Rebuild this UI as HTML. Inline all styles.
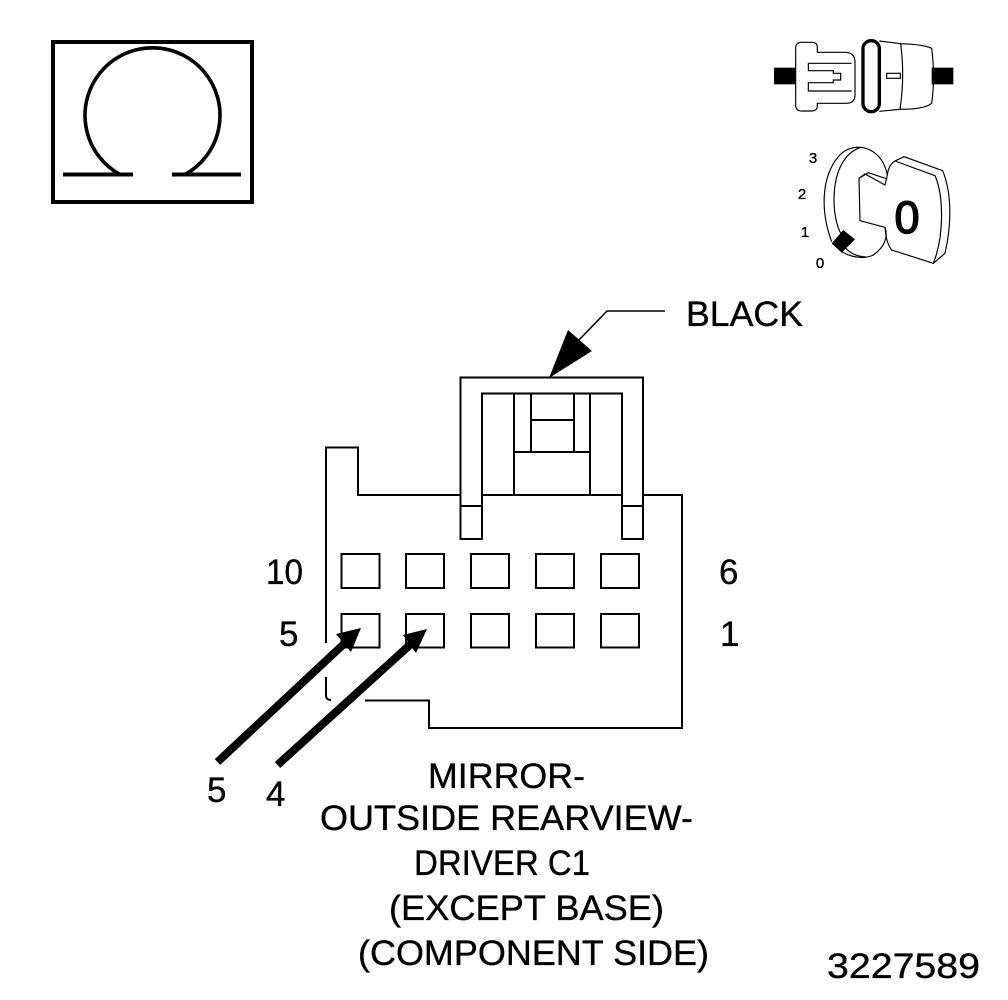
<!DOCTYPE html>
<html>
<head>
<meta charset="utf-8">
<style>
html,body{margin:0;padding:0;background:#fff}
svg{display:block}
text{font-family:"Liberation Sans",sans-serif;fill:#000;stroke:#000;stroke-width:0.35}
</style>
</head>
<body>
<svg width="1008" height="1000" viewBox="0 0 1008 1000" xmlns="http://www.w3.org/2000/svg">
<rect width="1008" height="1000" fill="#fff"/>
<!-- Omega -->
<rect x="53" y="42" width="199" height="160" fill="none" stroke="#000" stroke-width="4"/>
<path d="M120,174.500 A67.500,67.500 0 1 1 185,174.500" fill="none" stroke="#000" stroke-width="3.600"/>
<path d="M63,174.500H133M172,174.500H241" fill="none" stroke="#000" stroke-width="4"/>

<!-- Connector icons -->
<g transform="translate(760,30) scale(0.33333)" fill="none" stroke="#000" stroke-width="3.500">
<rect x="42" y="113" width="65" height="50" fill="#000" stroke="none"/>
<rect x="515" y="113" width="65" height="50" fill="#000" stroke="none"/>
<path d="M107,55 Q107,37 125,37 H155 Q172,37 172,52 V67 H258 Q285,70 285,95 V195 Q285,220 258,220 H172 V230 Q170,243 155,243 H125 Q107,243 107,225 Z"/>
<path d="M145,100 H275 M145,100 V122 H220 V130 H242 V150 H220 V158 H145 V183 H275"/>
<rect x="309" y="32" width="49" height="213" rx="24" ry="24" stroke-width="10"/>
<path d="M358,33 L422,41 Q435,140 420,238 L358,244"/>
<path d="M422,41 C460,42 495,45 515,55 C522,110 522,170 515,220 C495,235 460,238 420,238"/>
<rect x="380" y="130" width="41" height="15"/>
</g>

<!-- Key icon -->
<g transform="translate(760,30) scale(0.33333)" fill="none" stroke="#000" stroke-width="3.500">
<path d="M215,635 C180,540 185,440 235,380 C260,350 300,345 330,360 C360,375 375,400 382,435 L375,465 L315,432 L297,445 L300,572 L375,592 C385,620 375,650 340,675 C310,690 270,680 245,665"/>
<path d="M300,353 C250,370 222,430 222,510 C222,550 230,590 245,615"/>
<path d="M255,652 C272,672 295,680 318,681"/>
<path d="M297,445 L325,428 L382,447"/>
<path d="M382,435 Q385,405 405,393 L432,380 L548,422 C572,480 578,570 555,670 L520,700 L395,660 C380,640 378,620 375,592"/>
<path d="M405,393 L525,437 C552,500 552,620 520,700"/>
<path d="M250,600 L285,628 L245,668 L215,640 Z" fill="#000" stroke="none"/>
</g>
<text x="813" y="163" font-size="15" text-anchor="middle">3</text>
<text x="802" y="199" font-size="15" text-anchor="middle">2</text>
<text x="805" y="237" font-size="15" text-anchor="middle">1</text>
<text x="820" y="268" font-size="15" text-anchor="middle">0</text>
<text x="907" y="233" font-size="45" text-anchor="middle" style="stroke-width:1.500">0</text>

<!-- Black label -->
<text x="686" y="326" font-size="35" textLength="117" lengthAdjust="spacingAndGlyphs">BLACK</text>
<path d="M665,311 H607 L577,342" fill="none" stroke="#000" stroke-width="1.500"/>
<path d="M549,378 L568,330 L592,351 Z" fill="#000"/>

<!-- Connector body -->
<g fill="none" stroke="#000" stroke-width="2">
<path d="M326,643 V447.500 H358 V495 H682 V728 H429 V700.500 H365"/>
<path d="M326,677 V695 Q326,700 331,700"/>
</g>
<g fill="#fff" stroke="#000" stroke-width="2">
<path d="M460.500,506 V377.500 H643 V506 H622 V393.500 H482 V506 Z" />
<rect x="460.500" y="506" width="21.500" height="33"/>
<rect x="622" y="506" width="21" height="33"/>
<path d="M514,393.500 V495 M590,393.500 V495 M531,393.500 V452 M574,393.500 V452 M531,420 H574 M514,452 H591" fill="none"/>
</g>

<!-- Pins -->
<g fill="none" stroke="#000" stroke-width="2">
<rect x="341.500" y="554" width="38" height="34"/>
<rect x="406" y="554" width="38" height="34"/>
<rect x="471" y="554" width="38" height="34"/>
<rect x="536" y="554" width="38" height="34"/>
<rect x="601" y="554" width="38" height="34"/>
<rect x="341.500" y="614" width="38" height="33.500"/>
<rect x="406" y="614" width="38" height="33.500"/>
<rect x="471" y="614" width="38" height="33.500"/>
<rect x="536" y="614" width="38" height="33.500"/>
<rect x="601" y="614" width="38" height="33.500"/>
</g>

<!-- Arrows -->
<path d="M217.500,762 L346,642" stroke="#000" stroke-width="8" fill="none"/>
<path d="M361,628 L336,634 L351,652 Z" fill="#000"/>
<path d="M277.500,765 L412,643" stroke="#000" stroke-width="8" fill="none"/>
<path d="M427,629 L403,635 L416,653 Z" fill="#000"/>

<!-- Numbers -->
<text x="266" y="584" font-size="35" textLength="37" lengthAdjust="spacingAndGlyphs">10</text>
<text x="719" y="584" font-size="35">6</text>
<text x="279" y="646" font-size="35">5</text>
<text x="720" y="646" font-size="35">1</text>
<text x="207" y="802" font-size="35">5</text>
<text x="266" y="806" font-size="35">4</text>

<!-- Caption -->
<text x="428" y="788" font-size="35" textLength="157" lengthAdjust="spacingAndGlyphs">MIRROR-</text>
<text x="320" y="830" font-size="35" textLength="373" lengthAdjust="spacingAndGlyphs">OUTSIDE REARVIEW-</text>
<text x="414" y="875" font-size="35" textLength="176" lengthAdjust="spacingAndGlyphs">DRIVER C1</text>
<text x="389" y="920" font-size="35" textLength="275" lengthAdjust="spacingAndGlyphs">(EXCEPT BASE)</text>
<text x="358" y="965" font-size="35" textLength="351" lengthAdjust="spacingAndGlyphs">(COMPONENT SIDE)</text>
<text x="827" y="978" font-size="35" textLength="153" lengthAdjust="spacingAndGlyphs">3227589</text>
</svg>
</body>
</html>
